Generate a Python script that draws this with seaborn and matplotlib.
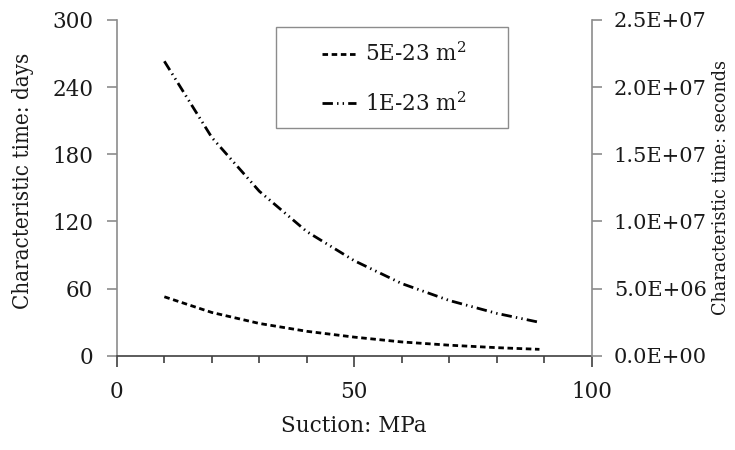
import matplotlib
matplotlib.use("Agg")
import matplotlib.pyplot as plt
import seaborn as sns
from matplotlib.patches import Rectangle
from matplotlib.ticker import FuncFormatter, MultipleLocator

# suction (MPa) and characteristic time (days)
suction = [10, 20, 30, 40, 50, 60, 70, 80, 89]
days_5e23 = [52.8, 38.8, 29.0, 22.0, 16.8, 12.5, 9.6, 7.4, 5.9]
days_1e23 = [263, 195, 147, 111, 85, 64.6, 49.5, 38, 30]
labels = ["5E-23 m$^2$", "1E-23 m$^2$"]
sec_ticks = [0, 5e6, 1e7, 1.5e7, 2e7, 2.5e7]

sns.set_theme(style="white")
plt.rcParams["font.family"] = ["DejaVu Serif"]
plt.rcParams["mathtext.fontset"] = "dejavuserif"
plt.rcParams["lines.scale_dashes"] = False

txt = "#1a1a1a"
fs = 15.5

fig = plt.figure(figsize=(7.35, 4.5), dpi=100)
ax = fig.add_axes([0.159, 0.209, 0.646, 0.747])

sns.lineplot(x=suction, y=days_5e23, ax=ax, color="black", lw=2.0,
             linestyle=(0, (4, 2.6)), label=labels[0])
sns.lineplot(x=suction, y=days_1e23, ax=ax, color="black", lw=2.0,
             linestyle=(0, (7.5, 3, 1, 3, 1, 3)), label=labels[1])

ax.set_xlim(0, 100)
ax.set_ylim(0, 300)
ax.xaxis.set_major_locator(MultipleLocator(50))
ax.xaxis.set_minor_locator(MultipleLocator(10))
ax.yaxis.set_major_locator(MultipleLocator(60))

for s in ["top", "right"]:
    ax.spines[s].set_visible(False)
ax.spines["left"].set_color("#8c8c8c")
ax.spines["bottom"].set_color("#404040")
ax.spines["left"].set_linewidth(1.2)
ax.spines["bottom"].set_linewidth(1.2)

ax.tick_params(axis="x", which="major", direction="out", length=8, width=1.2,
               color="#404040", pad=10, labelsize=fs, labelcolor=txt, bottom=True)
ax.tick_params(axis="x", which="minor", direction="out", length=5, width=1.2,
               color="#404040", bottom=True)
ax.tick_params(axis="y", direction="out", length=7, width=1.2, color="#8c8c8c",
               pad=10, labelsize=fs, labelcolor=txt, left=True)

ax.set_xlabel("Suction: MPa", fontsize=fs, color=txt)
ax.set_ylabel("Characteristic time: days", fontsize=16, color=txt,
              fontstretch="condensed")
ax.xaxis.set_label_coords(0.5, -0.175)
ax.yaxis.set_label_coords(-0.175, 0.52)

ax2 = ax.twinx()
ax2.set_ylim(0, 2.5e7)
ax2.set_yticks(sec_ticks)
ax2.yaxis.set_major_formatter(FuncFormatter(lambda v, p: f"{v:.1E}"))
for s in ["top", "left", "bottom"]:
    ax2.spines[s].set_visible(False)
ax2.spines["right"].set_color("#8c8c8c")
ax2.spines["right"].set_linewidth(1.2)
ax2.tick_params(axis="y", direction="out", length=7, width=1.2, color="#8c8c8c",
                pad=9, labelsize=15, labelcolor=txt, right=True)
ax2.set_ylabel("Characteristic time: seconds", fontsize=14, color=txt,
               fontstretch="condensed")
ax2.yaxis.set_label_coords(1.2525, 0.5)
ax2.grid(False)
ax.grid(False)

# legend box is wider than its content in the reference: draw it separately
ax.add_patch(Rectangle((0.335, 0.679), 0.488, 0.300, transform=ax.transAxes,
                       fill=True, facecolor="white", edgecolor="#8c8c8c",
                       lw=1.0, zorder=4))
leg = ax.legend(loc="upper left", bbox_to_anchor=(0.4316, 0.932), fontsize=fs,
                frameon=False, handlelength=1.58, handletextpad=0.42,
                borderpad=0, labelspacing=1.2, borderaxespad=0)
leg.set_zorder(5)
for t in leg.get_texts():
    t.set_color(txt)

fig.savefig("out.png", dpi=100)
